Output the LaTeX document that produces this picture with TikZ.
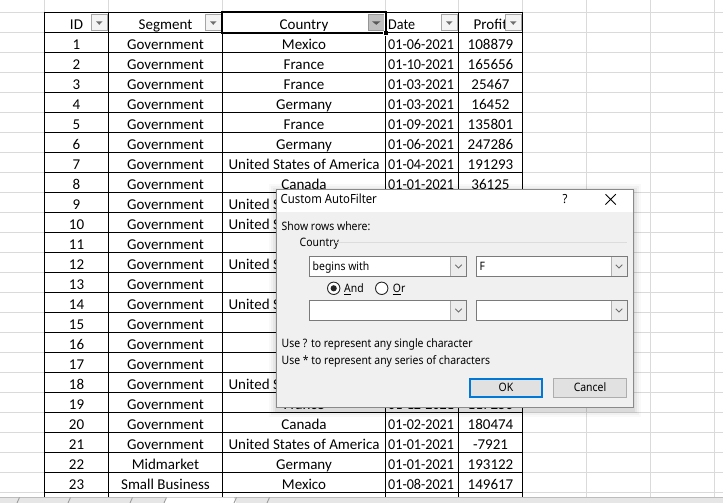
\documentclass[tikz,border=0pt]{standalone}
\usepackage{fontspec}
\newfontfamily\xlfont{Carlito}
\newfontfamily\xldate[FakeStretch=0.94]{Carlito}
\newfontfamily\uifont[FakeStretch=0.9]{Noto Sans}
\definecolor{gridgray}{HTML}{DADADA}
\definecolor{dlgbg}{HTML}{F0F0F0}
\definecolor{dlgborder}{HTML}{8A8A8A}
\definecolor{combobd}{HTML}{7A7A7A}
\definecolor{combobtn}{HTML}{ECECEC}
\definecolor{okblue}{HTML}{0078D7}
\definecolor{btnfill}{HTML}{E1E1E1}
\definecolor{btnbd}{HTML}{ADADAD}
\definecolor{fbtnbd}{HTML}{A6A6A6}
\definecolor{fbtnfill}{HTML}{F4F4F4}
\definecolor{tri}{HTML}{6E6E6E}
\definecolor{tabgray}{HTML}{E6E6E6}
\definecolor{tabline}{HTML}{BDBDBD}
\definecolor{sepline}{HTML}{DCDCDC}
\tikzset{
  gridline/.style={draw=gridgray, line width=1pt},
  tline/.style={draw=black, line width=1pt},
  cell/.style={font=\xlfont\fontsize{15}{18}\selectfont, inner sep=0pt, anchor=base},
  celll/.style={font=\xldate\fontsize{15}{18}\selectfont, inner sep=0pt, anchor=base west},
  uitext/.style={font=\uifont\fontsize{11.6}{14}\selectfont, inner sep=0pt, anchor=base west},
  uictext/.style={font=\uifont\fontsize{11.6}{14}\selectfont, inner sep=0pt, anchor=base},
  fbtn/.style={draw=fbtnbd, fill=fbtnfill, line width=1pt},
  combo/.style={draw=combobd, fill=white, line width=1pt},
  chev/.style={draw=tri, line width=0.9pt},
}
\begin{document}
\begin{tikzpicture}[x=1pt,y=-1pt]
\useasboundingbox (0,0) rectangle (723,503);
\fill[white] (0,0) rectangle (723,503);
% background grid
\foreach \k in {0,...,24} \draw[gridline] (0,12.5+20*\k) -- (723,12.5+20*\k);
\foreach \x in {44.5,108.5,222.5,385.5,458.5,522.5,586.5,650.5,714.5} \draw[gridline] (\x,0) -- (\x,497.5);
% table lines
\foreach \k in {0,...,24} \draw[tline] (44,12.5+20*\k) -- (523,12.5+20*\k);
\foreach \x in {44.5,108.5,222.5,385.5,458.5,522.5} \draw[tline] (\x,12) -- (\x,497.5);
% header
\node[cell] (hid) at (76.5,29.5) {ID};
\node[cell] (hsg) at (165.5,29.5) {Segment};
\node[cell] (hct) at (304,29.5) {Country};
\node[celll] (hdt) at (388,29.5) {Date};
\node[cell] (hpf) at (490.5,29.5) {Profit};
% data rows
\foreach \k/\s/\c/\d/\p in {1/Government/Mexico/01-06-2021/108879,
  2/Government/France/01-10-2021/165656,
  3/Government/France/01-03-2021/25467,
  4/Government/Germany/01-03-2021/16452,
  5/Government/France/01-09-2021/135801,
  6/Government/Germany/01-06-2021/247286,
  7/Government/United States of America/01-04-2021/191293,
  8/Government/Canada/01-01-2021/36125,
  19/Government/France/01-12-2021/117250,
  20/Government/Canada/01-02-2021/180474,
  21/Government/United States of America/01-01-2021/-7921,
  22/Midmarket/Germany/01-01-2021/193122,
  23/Small Business/Mexico/01-08-2021/149617}{
  \node[cell] (id\k) at (76.5,29.5+20*\k) {\k};
  \node[cell] (sg\k) at (165.5,29.5+20*\k) {\s};
  \node[cell] (ct\k) at (304,29.5+20*\k) {\c};
  \node[celll] (dt\k) at (388,29.5+20*\k) {\d};
  \node[cell] (pf\k) at (490.5,29.5+20*\k) {\p};
}
\foreach \k in {9,...,18}{
  \node[cell] (id\k) at (76.5,29.5+20*\k) {\k};
  \node[cell] (sg\k) at (165.5,29.5+20*\k) {Government};
}
\foreach \k in {9,10,12,14,18}
  \node[cell] (ct\k) at (304,29.5+20*\k) {United States of America};
% filter buttons
\foreach \r/\n in {108.5/bid,222.5/bsg,458.5/bdt,522.5/bpf}{
  \draw[fbtn] (\r-17,14.5) rectangle (\r-1.5,31);
  \fill[tri] (\r-12.5,21.3) -- (\r-6,21.3) -- (\r-9.25,24.8) -- cycle;
}
\draw[draw=fbtnbd!90!black, fill=btnfill!85!black, line width=1pt] (368.5,14.5) rectangle (384,31);
\fill[tri!80!black] (372,21.3) -- (380.5,21.3) -- (376.25,24.8) -- cycle;
% active cell
\draw[black, line width=1.6pt] (222.2,12.2) rectangle (385.8,33);
\draw[white, line width=0.6pt] (223.6,13.6) rectangle (384.4,31.6);
\fill[white] (383.3,30.8) rectangle (388.3,35.8);
\fill[black] (384,31.5) rectangle (387.6,35.1);
% dialog shadow
\foreach \o/\a in {7/0.025,5/0.03,3/0.04,1.5/0.05}
  \fill[black, opacity=\a] (276-\o,189-\o+2) rectangle (633.5+\o,408+\o+2);
% dialog
\draw[fill=dlgbg, draw=dlgborder, line width=1pt] (276.5,189.5) rectangle (633,407.5);
\fill[white] (277,190) rectangle (632.5,212);
\node[uitext, font=\uifont\fontsize{12.6}{15}\selectfont] (title) at (280.5,203.5) {Custom AutoFilter};
\node[uictext, font=\uifont\fontsize{12.6}{15}\selectfont] (help) at (565,203.5) {?};
\draw[black, line width=0.9pt] (605.5,194.3) -- (615.8,204.6) (605.5,204.6) -- (615.8,194.3);
\node[uitext] (show) at (281.5,230) {Show rows where:};
\node[uitext] (colname) at (299.5,246) {Country};
\draw[sepline, line width=1pt] (335,242) -- (627,242);
% combos
\foreach \y/\n in {256.5/a,300.5/b}{
  \draw[combo] (309.5,\y) rectangle (466.5,\y+20);
  \fill[combobtn] (450.5,\y+0.5) rectangle (466,\y+19.5);
  \draw[combobd!60, line width=0.8pt] (450.5,\y+0.5) -- (450.5,\y+19.5);
  \draw[chev] (455.2,\y+8.3) -- (458.5,\y+11.6) -- (461.8,\y+8.3);
  \draw[combo] (476.5,\y) rectangle (627.5,\y+20);
  \fill[combobtn] (611,\y+0.5) rectangle (627,\y+19.5);
  \draw[combobd!60, line width=0.8pt] (611,\y+0.5) -- (611,\y+19.5);
  \draw[chev] (615.7,\y+8.3) -- (619,\y+11.6) -- (622.3,\y+8.3);
}
\node[uitext] (op1) at (312.5,270.7) {begins with};
\node[uitext] (val1) at (479.5,270.7) {F};
% radio buttons
\draw[fill=white, draw=black!85, line width=0.9pt] (333.7,288.3) circle (6.2);
\fill[black!85] (333.7,288.3) circle (3.1);
\node[uitext] (andtxt) at (344,292.3) {\underline{A}nd};
\draw[fill=white, draw=black!85, line width=0.9pt] (381.7,288.3) circle (6.2);
\node[uitext] (ortxt) at (392.7,292.3) {\underline{O}r};
% hints
\node[uitext] (hint1) at (281.5,347.3) {Use ? to represent any single character};
\node[uitext] (hint2) at (281.5,364) {Use * to represent any series of characters};
% buttons
\draw[fill=btnfill, draw=okblue, line width=2pt] (470.3,378.7) rectangle (541.7,397.3);
\node[uictext] (ok) at (506,391.7) {OK};
\draw[fill=btnfill, draw=btnbd, line width=1pt] (553.8,378.2) rectangle (626.2,397.8);
\node[uictext] (cancel) at (590,391.7) {Cancel};
% sheet tab bar
\fill[tabgray] (0,497.5) rectangle (723,503);
\draw[tabline, line width=1pt] (0,497.5) -- (723,497.5);
\fill[white] (166,497.5) -- (234,497.5) -- (236,503) -- (164,503) -- cycle;
\foreach \x in {17,68,130,164,234,267}
  \draw[tabline!80!black, line width=0.8pt] (\x,503) -- (\x+2.5,497.5);
\end{tikzpicture}
\end{document}
